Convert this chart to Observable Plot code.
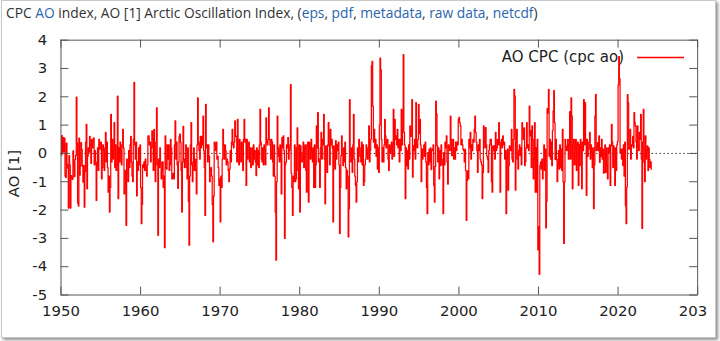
<!DOCTYPE html>
<html><head><meta charset="utf-8">
<script src="https://cdn.jsdelivr.net/npm/d3@7"></script>
<script src="https://cdn.jsdelivr.net/npm/@observablehq/plot@0.6"></script>
<style>
body{margin:0;background:#fff;}
#wrap{position:relative;width:720px;height:341px;overflow:hidden;background:#fff;}
#clip{position:absolute;left:0;top:0;width:714px;height:337px;overflow:hidden;}
#chart{position:absolute;left:0;top:0;}
#frame{position:absolute;left:1px;top:0;width:713px;height:336px;border:1px solid #c8c8c8;box-shadow:2px 2px 3px rgba(0,0,0,.45);pointer-events:none;}
#title{position:absolute;left:6px;top:4px;font:13.8px "Open Sans";line-height:18px;color:#333;white-space:nowrap;}
#title span.l{color:#2a64ad;}
#legend{position:absolute;right:96px;top:47px;font:15px "DejaVu Sans";line-height:20px;color:#222;white-space:nowrap;}
#legline{position:absolute;left:636px;top:54px;}
</style>
</head><body>
<div id="wrap">
  <div id="clip"><div id="chart"></div></div>
  <div id="frame"></div>
  <div id="title">CPC <span class="l">AO</span> index, AO [1] Arctic Oscillation Index, (<span class="l">eps</span>, <span class="l">pdf</span>, <span class="l">metadata</span>, <span class="l">raw data</span>, <span class="l">netcdf</span>)</div>
  <div id="legend">AO CPC (cpc ao)</div>
  <svg id="legline" width="50" height="6"><line x1="1" y1="3.5" x2="48" y2="3.5" stroke="#ff0000" stroke-width="1.3"/></svg>
</div>
<script>
// Monthly AO index values (Jan..Dec)
const ao1950s = [
 -0.06, 0.63,-0.01, 0.56, 0.07, 0.54,-0.80,-0.85, 0.36,-0.38,-0.52,-1.93,
 -0.08,-0.40,-1.93,-0.78,-0.86,-0.92, 0.09,-0.38,-0.82,-0.21,-0.07, 1.99,
  0.37,-1.75,-1.86, 0.54,-0.77,-0.44, 0.38, 0.14,-0.45,-1.01,-0.42,-1.90,
 -0.64, 0.40, 1.03,-1.25,-0.10, 0.20, 0.05, 0.60, 0.30,-0.35, 0.50, 0.20,
  0.45, 0.55,-0.40, 0.10,-0.30,-1.66,-0.40, 0.20,-0.60, 0.50, 0.15, 0.35,
  0.40,-0.90,-0.50, 0.30, 0.10,-0.60, 0.20, 0.74,-0.30, 0.40,-0.50,-1.37,
 -0.80,-2.07,-1.20, 1.38,-0.30, 0.50,-0.20, 0.10, 1.09,-0.50, 0.30,-0.60,
 -0.40, 2.02,-1.60, 0.20,-0.30, 0.40, 0.10,-0.40, 0.30, 0.85, 0.20,-1.43,
 -1.20,-0.60,-2.54,-0.20,-0.70,-1.00, 0.10,-0.50, 0.30, 0.60,-0.30,-0.80,
 -1.00, 0.50, 2.51, 0.30,-0.20, 0.40,-1.50,-0.30,-0.60, 0.20,-0.40, 0.30
];
const ao1960s = [
 -1.20,-2.48,-1.80,-0.40,-0.50,-0.30,-0.60,-0.20,-0.50,-0.80,-0.40, 0.62,
  0.62, 0.30, 0.40,-0.30, 0.20, 0.80, 0.50,-0.60, 0.85,-0.20,-1.00, 0.40,
  1.61,-0.40,-2.89,-0.20,-0.50, 0.20,-0.30,-0.90,-0.60,-0.30,-1.20,-0.80,
 -3.33, 0.62,-0.50,-0.55, 0.30,-0.20, 0.30,-0.60,-0.40, 0.50, 0.20,-0.90,
 -0.80,-0.70,-0.90, 0.30, 1.15,-0.20, 0.40,-0.40,-1.23,-0.30, 0.60, 0.68,
  0.40,-0.60,-2.07,-0.30, 0.96,-0.20,-0.50,-0.20, 0.30,-0.50,-0.90, 0.20,
 -1.70,-3.24,-0.80, 0.30, 1.09,-0.40,-1.00,-0.30, 0.20,-0.60,-0.20,-0.60,
 -1.43, 0.30, 1.96, 0.40, 0.10,-0.20, 0.60, 0.20, 0.60, 0.30, 1.32, 0.10,
 -0.50,-2.19, 1.73, 0.20, 0.30,-0.30, 0.30,-0.10,-1.00,-0.60,-0.50,-0.80,
 -1.80,-3.12,-1.50, 0.40, 0.30, 0.10, 0.40,-0.20,-0.10,-0.50,-1.13,-0.90
];
const ao1970s = [
 -2.42,-0.80,-1.20,-0.20, 0.85, 0.30,-0.20, 0.30, 0.10,-0.40,-0.20,-0.30,
 -0.60,-1.00,-0.55, 0.10,-0.30, 0.40, 0.85, 0.30, 0.20, 0.40, 1.15, 0.60,
  0.60,-0.30, 1.20, 0.20,-0.40, 0.50, 0.20,-0.30, 0.40, 0.10,-0.60, 0.50,
  1.20, 0.40, 0.50,-1.13, 0.50,-0.20, 0.30, 0.40,-0.30, 0.20,-0.50,-0.40,
  0.20,-0.40, 0.30,-0.20, 0.10,-0.30,-0.78, 0.20,-0.40, 0.10,-0.50, 0.30,
  1.56, 0.40,-0.20,-0.30, 0.20,-0.40, 0.30, 0.10,-0.40, 1.26, 0.40, 0.30,
  0.50, 1.61, 0.50, 0.30,-0.20, 0.50, 0.40,-0.30,-0.80, 0.30,-0.80,-2.07,
 -3.77,-1.00, 1.32, 0.20,-0.10,-0.30, 0.30,-0.20,-1.43, 0.56, 0.20, 0.62,
  0.10,-3.00,-0.40,-0.30, 0.30, 0.20, 0.56,-0.20, 0.10, 0.30, 2.43,-0.70,
 -1.20,-2.19,-0.80,-1.00, 0.30,-1.00,-0.90, 0.20, 0.90,-0.60,-1.25, 0.30
];
const ao1980s = [
 -2.07, 0.27, 0.03,-0.30,-0.20, 0.40,-0.50, 0.20, 0.30,-0.60,-1.37, 0.30,
  0.40,-1.72, 0.39, 0.20,-0.20, 0.50, 0.10,-0.30, 0.20,-1.20, 0.30,-1.20,
 -0.40, 0.97, 0.20, 1.44,-0.30,-0.20,-1.20, 0.20, 0.74,-0.20, 0.50, 0.30,
  1.38,-0.20,-1.78, 0.27, 0.10,-0.67, 0.30, 1.09, 0.27,-0.40, 0.85, 0.30,
  0.50, 0.20,-2.42, 0.27,-0.30,-0.55, 0.45,-0.20, 0.30, 0.10, 0.40,-0.40,
 -2.83,-1.20,-0.08, 0.62, 0.10,-0.43, 0.20,-0.30, 0.40,-0.50,-1.25,-0.60,
 -0.80,-2.95,-1.95, 1.90, 0.10,-0.30, 0.20,-0.67, 0.30, 1.38,-0.20,-0.80,
 -1.13,-1.72,-1.00, 0.20,-0.30, 0.50, 0.20,-0.10,-0.30, 0.40,-0.40, 0.30,
 -1.13,-1.00,-0.40,-0.20, 0.30, 0.03,-0.20, 0.20, 0.97,-0.30, 0.10, 0.50,
  3.10, 3.25, 1.67, 0.40, 0.85, 0.20, 0.50,-0.10, 0.30,-0.55, 0.20,-0.67
];
const ao1990s = [
  1.00, 3.37, 2.96, 0.50,-0.30, 0.20,-0.30, 0.30, 1.20, 0.62, 0.20, 0.40,
  0.50,-0.20,-0.60, 0.30, 0.00, 0.15, 0.40,-0.20, 0.30, 1.56,-0.10, 1.20,
  0.50, 0.62, 0.30, 0.85, 0.20, 0.50,-0.30, 0.50, 0.10, 1.56, 0.30, 0.90,
  3.49, 0.74, 0.30,-1.60, 0.20,-0.43, 0.10,-0.55, 0.30,-0.20, 0.97, 0.60,
  0.60, 1.90,-0.84, 0.27, 0.10, 0.50,-0.20, 1.79, 0.30, 0.20, 0.50, 1.73,
  0.70, 1.20, 0.30,-1.00, 0.15,-0.20, 0.15, 0.30,-0.10, 0.40,-0.30,-1.20,
 -2.13, 0.03,-0.40, 0.15,-0.30, 0.20,-0.57, 0.10, 0.15, 0.30,-1.13,-1.72,
 -0.46, 1.85, 1.40, 0.27,-0.30, 0.20,-0.90, 0.10,-0.43, 0.30,-0.20,-0.40,
 -2.13, 0.03,-0.40, 0.40, 0.20, 0.62,-0.30,-1.08, 0.30, 0.20, 0.10, 1.32,
  0.50,-0.08, 0.30, 0.50,-0.20, 0.20,-0.20, 0.40, 0.10, 0.40, 0.30, 1.20
];
const ao2000s = [
  1.27, 1.09, 0.97, 0.30, 0.50, 0.30, 0.15, 0.10,-0.30, 0.15,-0.60,-2.36,
 -0.96,-0.62,-0.90, 0.50, 0.20, 0.74,-0.20, 0.30, 0.10, 0.50, 0.40, 0.85,
  1.32, 0.74, 0.40, 0.10,-0.67, 0.30, 0.10, 0.50,-0.20,-0.30,-0.40,-1.60,
 -0.67, 0.97, 0.62, 0.20, 0.91, 0.30,-0.10,-0.20,-0.67, 0.10, 0.30, 0.50,
  0.50,-1.00,-1.37, 0.27, 0.10, 0.27,-0.20, 0.74, 0.10, 0.20, 0.50, 0.30,
  1.09, 0.40,-1.37, 0.30, 0.50, 0.20, 0.62, 0.30, 0.40,-0.20, 0.10,-2.13,
 -0.17, 0.15,-1.30,-0.43, 0.27, 0.20, 0.10, 0.85,-0.20,-0.30, 0.50, 2.26,
  2.03,-1.30, 0.38, 0.85,-0.20,-0.55, 0.10, 0.30,-0.08, 0.20,-0.40, 1.09,
  0.80, 0.50, 0.90,-0.43,-0.30, 0.20, 1.09, 0.20, 0.30, 0.10, 1.67, 0.62,
  0.80,-0.50, 0.97, 0.50,-0.90,-0.20, 1.09,-1.37, 0.20,-1.37, 0.50,-3.41
];
const ao2010s = [
 -2.59,-4.27,-0.43,-0.30,-0.55,-0.20,-0.90,-0.20, 0.30,-0.60, 0.15,-2.63,
 -1.68, 1.58, 1.42, 2.26,-0.10, 0.50,-0.20, 0.40,-0.43, 0.80, 1.49, 2.22,
  1.09,-0.22, 0.50,-0.20,-1.00,-0.40, 0.10,-0.55, 0.30,-0.50, 0.15,-0.60,
  0.85,-1.00,-3.18,-1.00, 0.50, 0.27, 0.10, 0.20, 0.50,-0.20, 0.30, 1.48,
 -0.20, 1.96, 1.32,-1.25, 0.30, 0.50,-0.40, 0.20, 0.50,-0.60, 0.30, 0.40,
 -1.13, 0.30,-0.43, 0.50, 0.20,-1.25, 0.40, 0.10, 1.90, 0.30, 1.79, 0.50,
 -1.48, 0.50,-0.10, 0.15, 0.40, 0.74,-0.20, 0.30, 0.03,-0.50, 0.20,-1.95,
 -0.40, 1.32, 2.09, 0.10, 0.20, 0.38, 0.10, 0.62,-0.32, 0.20,-0.10, 0.50,
 -0.20, 0.15,-0.70,-0.67, 0.30,-0.67, 0.20,-0.40,-0.90, 0.20, 0.03, 0.30,
 -1.13, 0.27, 1.03, 0.40,-0.50, 0.27,-0.30,-1.13, 0.20,-0.60, 0.30, 0.42
];
const ao2020s = [
  2.42, 3.42, 2.64, 0.03, 0.15,-0.20, 0.15,-0.43, 0.30,-0.80, 0.40,-1.84,
 -2.48,-1.19, 2.08, 1.79, 0.15, 0.20, 0.85,-0.20, 0.30, 0.27, 0.60, 0.20,
  1.44, 1.10, 0.97, 0.40,-0.20, 0.97, 0.30, 0.10, 0.74, 0.50, 1.38,-0.20,
 -2.65, 0.40, 1.56,-0.30,-1.00, 0.62,-0.20, 0.10, 0.27,-0.60, 0.20,-0.20,
 -0.50,-0.30,-0.55
];
const firstYear = 1950;
const xTicks = [1950, 1960, 1970, 1980, 1990, 2000, 2010, 2020, 2030];
const xTickLabels = ["1950", "1960", "1970", "1980", "1990", "2000", "2010", "2020", "203"];
const yTicks = [-5, -4, -3, -2, -1, 0, 1, 2, 3, 4];

const values = [...ao1950s, ...ao1960s, ...ao1970s, ...ao1980s, ...ao1990s, ...ao2000s, ...ao2010s, ...ao2020s];
const series = values.map((v, i) => ({t: firstYear + (i + 0.5) / 12, v}));

const xDom = [1950, 2030], yDom = [-5, 4];
const W = 720, H = 341, mL = 61, mR = 17, mT = 40, mB = 44;
const pxPerX = (W - mL - mR) / (xDom[1] - xDom[0]);
const pxPerY = (H - mT - mB) / (yDom[1] - yDom[0]);
const tickLen = 8;
const axisColor = "#555";
const lastTick = xTicks.slice(-1);

const chart = Plot.plot({
  width: W, height: H,
  marginLeft: mL, marginRight: mR, marginTop: mT, marginBottom: mB,
  style: {fontFamily: "DejaVu Sans", fontSize: "15px", color: "#222", background: "transparent", overflow: "visible"},
  x: {domain: xDom},
  y: {domain: yDom},
  marks: [
    Plot.ruleY([0], {stroke: "#333", strokeDasharray: "1.5,2.5", strokeWidth: 1}),
    Plot.line(series, {x: "t", y: "v", curve: "step", stroke: "#ff0000", strokeWidth: 1.25}),
    Plot.frame({stroke: axisColor}),
    Plot.ruleX(xTicks, {y1: yDom[0], y2: yDom[0] + tickLen / pxPerY, stroke: axisColor}),
    Plot.ruleX(xTicks, {y1: yDom[1], y2: yDom[1] - tickLen / pxPerY, stroke: axisColor}),
    Plot.ruleY(yTicks, {x1: xDom[0], x2: xDom[0] + tickLen / pxPerX, stroke: axisColor}),
    Plot.ruleY(yTicks, {x1: xDom[1], x2: xDom[1] - tickLen / pxPerX, stroke: axisColor}),
    Plot.axisX(xTicks.slice(0, -1), {tickSize: 0, tickPadding: 11, tickFormat: d => xTickLabels[xTicks.indexOf(d)], label: null, fill: "#222"}),
    Plot.text(lastTick, {x: d => d, frameAnchor: "bottom", textAnchor: "start", lineAnchor: "top", dx: -19, dy: 11, text: d => xTickLabels[xTicks.indexOf(d)], fill: "#222"}),
    Plot.axisY(yTicks, {tickSize: 0, tickPadding: 14, tickFormat: d => String(d), label: null, fill: "#222"}),
    Plot.text(["AO [1]"], {frameAnchor: "left", textAnchor: "middle", dx: -47, dy: 6, rotate: -90, text: d => d, fill: "#222"})
  ]
});
document.getElementById("chart").appendChild(chart);
</script>
</body></html>
